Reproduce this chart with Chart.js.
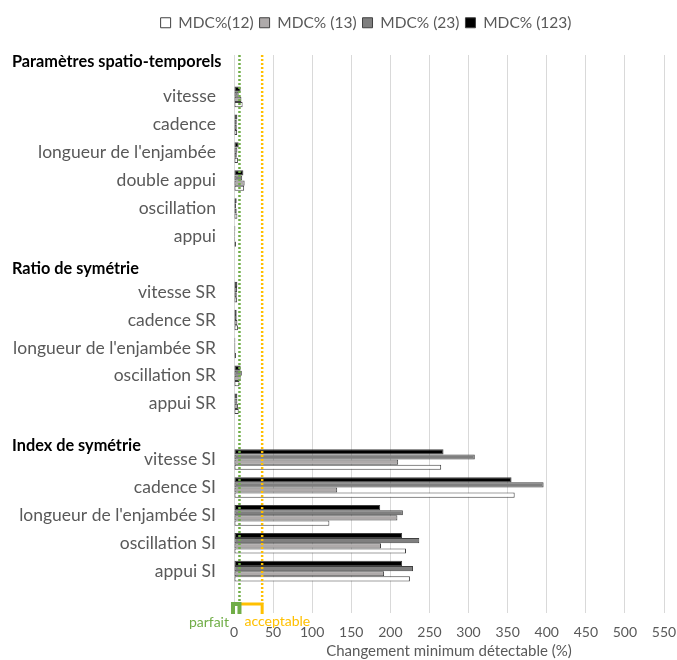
<!DOCTYPE html>
<html>
<head>
<meta charset="utf-8">
<script src="https://cdn.jsdelivr.net/npm/chart.js@4.4.1/dist/chart.umd.min.js"></script>
<style>
  html, body { margin: 0; padding: 0; background: #fff; }
  #wrap { width: 677px; height: 660px; }
</style>
</head>
<body>
<div id="wrap"><canvas id="mdcChart"></canvas></div>
<script>
// Categories (blank slots hold the section headings)
const categories = [
  "", "vitesse", "cadence", "longueur de l'enjambée", "double appui", "oscillation", "appui",
  "", "vitesse SR", "cadence SR", "longueur de l'enjambée SR", "oscillation SR", "appui SR",
  "", "vitesse SI", "cadence SI", "longueur de l'enjambée SI", "oscillation SI", "appui SI",
  ""
];

const sectionHeadings = [
  { index: 0, text: "Paramètres spatio-temporels", dy: -7 },
  { index: 7, text: "Ratio de symétrie", dy: 4 },
  { index: 13, text: "Index de symétrie", dy: 14 },
];

// MDC values (%) per category
const mdc12 = [null, 11, 4, 5, 13, 4.3, 2.5, null, 4, 5, 2.5, 7, 6, null, 265, 359, 122, 220, 225, null];
const mdc13 = [null, 9.5, 3.5, 3.5, 13.6, 3.4, 1.5, null, 3.5, 4.3, 1.7, 8.5, 5, null, 210, 132, 209, 188, 192, null];
const mdc23 = [null, 6, 3.5, 4.3, 10.5, 2.5, 1.5, null, 4, 3.4, 1.7, 10, 4.3, null, 308, 396, 216, 237, 229, null];
const mdc123 = [null, 8.5, 4.3, 6, 12, 3.4, 1.7, null, 4.3, 3.4, 1.7, 8.5, 4.3, null, 268, 355, 187, 215, 215, null];

// Thresholds
const parfaitLimit = 7;
const acceptableLimit = 36;

const xTicksMax = 550;
const xTicksStep = 50;

const FONT = "Lato, 'Open Sans', sans-serif";
const GREEN = "#70ad47";
const ORANGE = "#ffc000";

// Legend: extra room below it, and nudged right over the plot
const legendTweaks = {
  id: "legendTweaks",
  beforeInit(chart) {
    const fit = chart.legend.fit;
    chart.legend.fit = function () {
      fit.call(this);
      this.height = Math.max(this.height, 46);
    };
  },
  afterLayout(chart) {
    const legend = chart.legend;
    legend.left += 34;
    legend.right += 34;
    legend.adjustHitBoxes();
  },
};

// Headings, threshold lines and brackets
const annotations = {
  id: "annotations",
  afterDatasetsDraw(chart) {
    const { ctx, chartArea, scales } = chart;
    const x = scales.x, y = scales.y;
    const xp = x.getPixelForValue(parfaitLimit);
    const xa = x.getPixelForValue(acceptableLimit);
    const x0 = x.getPixelForValue(0);
    const bTop = chartArea.bottom - 9;
    const bBot = chartArea.bottom + 1;

    ctx.save();
    ctx.lineWidth = 2.5;
    ctx.setLineDash([2, 2]);
    ctx.strokeStyle = GREEN;
    ctx.beginPath();
    ctx.moveTo(xp, chartArea.top);
    ctx.lineTo(xp, bTop);
    ctx.stroke();
    ctx.strokeStyle = ORANGE;
    ctx.beginPath();
    ctx.moveTo(xa, chartArea.top);
    ctx.lineTo(xa, bTop);
    ctx.stroke();
    ctx.setLineDash([]);

    ctx.lineWidth = 3;
    ctx.strokeStyle = ORANGE;
    ctx.beginPath();
    ctx.moveTo(xp, bTop);
    ctx.lineTo(xa, bTop);
    ctx.lineTo(xa, bBot);
    ctx.stroke();

    ctx.lineWidth = 4;
    ctx.strokeStyle = GREEN;
    ctx.beginPath();
    ctx.moveTo(x0 - 1, bBot);
    ctx.lineTo(x0 - 1, bTop);
    ctx.lineTo(xp, bTop);
    ctx.lineTo(xp, bBot);
    ctx.stroke();

    ctx.font = "14px " + FONT;
    ctx.textBaseline = "middle";
    ctx.fillStyle = GREEN;
    ctx.textAlign = "right";
    ctx.fillText("parfait", x0 - 5, bBot + 8);
    ctx.fillStyle = ORANGE;
    ctx.textAlign = "left";
    ctx.fillText("acceptable", xp + 5, bBot + 7);

    ctx.font = "bold 16.3px " + FONT;
    ctx.fillStyle = "#000";
    sectionHeadings.forEach((h) => {
      ctx.fillText(h.text, 12, y.getPixelForValue(h.index) + h.dy);
    });
    ctx.restore();
  },
};

const makeDataset = (label, data, color) => ({
  label,
  data,
  backgroundColor: color,
  borderColor: "#404040",
  borderWidth: 1,
  borderSkipped: false,
  barPercentage: 1,
  categoryPercentage: 0.74,
});

new Chart(document.getElementById("mdcChart"), {
  type: "bar",
  data: {
    labels: categories,
    datasets: [
      makeDataset("MDC% (123)", mdc123, "#000000"),
      makeDataset("MDC% (23)", mdc23, "#7f7f7f"),
      makeDataset("MDC% (13)", mdc13, "#aeaaaa"),
      makeDataset("MDC%(12)", mdc12, "#ffffff"),
    ],
  },
  options: {
    indexAxis: "y",
    responsive: true,
    maintainAspectRatio: false,
    animation: false,
    layout: { padding: { top: 9, right: 13, left: 0, bottom: 0 } },
    plugins: {
      legend: {
        reverse: true,
        labels: {
          boxWidth: 10,
          boxHeight: 10,
          padding: 6,
          color: "#595959",
          font: { family: FONT, size: 15.5 },
        },
      },
      tooltip: { enabled: false },
    },
    scales: {
      x: {
        min: 0,
        max: xTicksMax,
        ticks: {
          stepSize: xTicksStep,
          color: "#595959",
          font: { family: FONT, size: 14 },
          padding: 11,
        },
        grid: { color: "#d9d9d9", drawTicks: false },
        border: { display: false },
        title: {
          display: true,
          text: "Changement minimum détectable (%)",
          color: "#595959",
          font: { family: FONT, size: 15 },
          padding: { top: 1, bottom: 0 },
        },
        afterFit(scale) {
          scale.height = 47;
          scale.paddingLeft = 0;
          scale.paddingRight = 0;
        },
      },
      y: {
        ticks: {
          color: "#595959",
          font: { family: FONT, size: 17.5 },
          padding: 10,
          autoSkip: false,
        },
        grid: { display: false },
        border: { display: false },
        afterFit(scale) { scale.width = 234; },
      },
    },
  },
  plugins: [legendTweaks, annotations],
});
</script>
</body>
</html>
